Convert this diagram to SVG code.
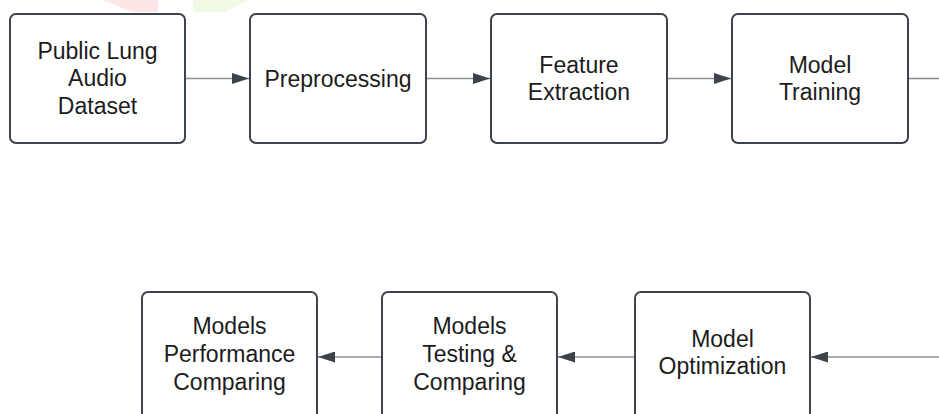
<svg xmlns="http://www.w3.org/2000/svg" width="939" height="414" viewBox="0 0 939 414">
<style>
.box{fill:#fff;stroke:#3d434c;stroke-width:2}
.lbl{font-family:"Liberation Sans",Arial,sans-serif;font-size:23px;fill:#1c1c1c;text-anchor:middle}
.edge{stroke:#8d9197;stroke-width:1.6;fill:none}
</style>
<defs>
<marker id="ah" viewBox="0 0 17 11" refX="17" refY="5.5" markerWidth="17" markerHeight="11" markerUnits="userSpaceOnUse" orient="auto">
<path d="M0,0 L17,5.5 L0,11 Z" fill="#3d434c"/>
</marker>
</defs>
<rect width="939" height="414" fill="#fff"/>
<polygon points="103,0 158,0 158,12 132,12" fill="#fde6e6"/>
<polygon points="193,0 248,0 226,12 193,12" fill="#eff9e6"/>
<g id="connectors">
<line class="edge" x1="185" y1="78.5" x2="249" y2="78.5" marker-end="url(#ah)"/>
<line class="edge" x1="426" y1="78.5" x2="490" y2="78.5" marker-end="url(#ah)"/>
<line class="edge" x1="667" y1="78.5" x2="731" y2="78.5" marker-end="url(#ah)"/>
<line class="edge" x1="908" y1="78.5" x2="939" y2="78.5"/>
<line class="edge" x1="939" y1="357" x2="811" y2="357" marker-end="url(#ah)"/>
<line class="edge" x1="635" y1="357" x2="558" y2="357" marker-end="url(#ah)"/>
<line class="edge" x1="382" y1="357" x2="318" y2="357" marker-end="url(#ah)"/>
</g>
<g id="n1">
<rect class="box" x="10" y="14" width="175" height="129" rx="6"/>
<text class="lbl" x="97.5" y="58.5">Public Lung</text>
<text class="lbl" x="97.5" y="86">Audio</text>
<text class="lbl" x="97.5" y="113.5">Dataset</text>
</g>
<g id="n2">
<rect class="box" x="250" y="14" width="176" height="129" rx="6"/>
<text class="lbl" x="338" y="86.5">Preprocessing</text>
</g>
<g id="n3">
<rect class="box" x="491" y="14" width="176" height="129" rx="6"/>
<text class="lbl" x="579" y="72.5">Feature</text>
<text class="lbl" x="579" y="100">Extraction</text>
</g>
<g id="n4">
<rect class="box" x="732" y="14" width="176" height="129" rx="6"/>
<text class="lbl" x="820" y="72.5">Model</text>
<text class="lbl" x="820" y="100">Training</text>
</g>
<g id="n5">
<rect class="box" x="635" y="292" width="175" height="135" rx="6"/>
<text class="lbl" x="722.5" y="347">Model</text>
<text class="lbl" x="722.5" y="374">Optimization</text>
</g>
<g id="n6">
<rect class="box" x="382" y="292" width="175" height="135" rx="6"/>
<text class="lbl" x="469.5" y="333.5">Models</text>
<text class="lbl" x="469.5" y="361.5">Testing &amp;</text>
<text class="lbl" x="469.5" y="389.5">Comparing</text>
</g>
<g id="n7">
<rect class="box" x="142" y="292" width="175" height="135" rx="6"/>
<text class="lbl" x="229.5" y="333.5">Models</text>
<text class="lbl" x="229.5" y="361.5">Performance</text>
<text class="lbl" x="229.5" y="389.5">Comparing</text>
</g>
</svg>
